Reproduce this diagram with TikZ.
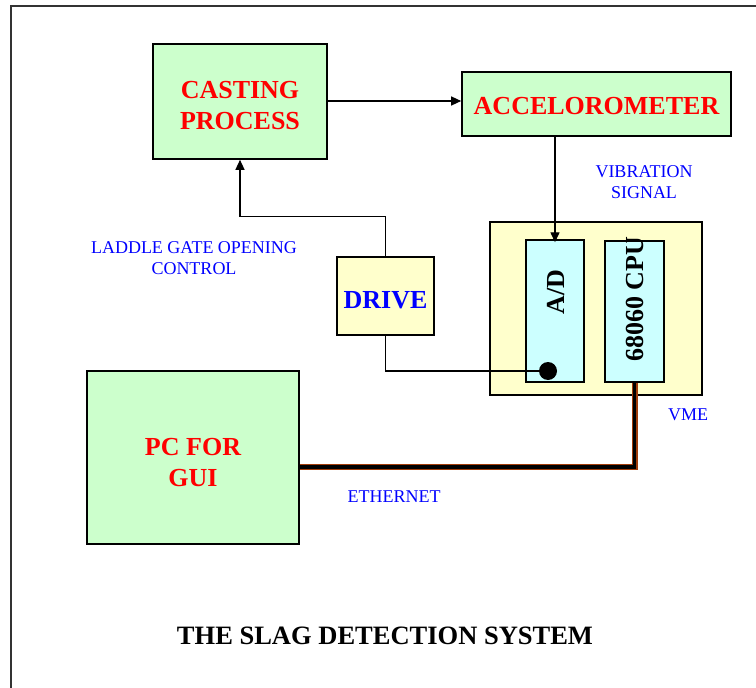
\documentclass[tikz,border=0pt]{standalone}
\usepackage{fontspec}
\setmainfont{Liberation Serif}
\usepackage{tikz}
\usetikzlibrary{arrows.meta}

\definecolor{boxgreen}{RGB}{204,255,204}
\definecolor{boxyellow}{RGB}{255,255,204}
\definecolor{boxcyan}{RGB}{204,255,255}
\definecolor{netbrown}{RGB}{160,60,10}

\begin{document}
\begin{tikzpicture}[
    x=1pt, y=-1pt,
    box/.style={rectangle, draw, line width=1.6pt, inner sep=0pt, align=center},
    bigtext/.style={font=\fontsize{26}{31}\selectfont\bfseries},
    greenbox/.style={box, fill=boxgreen},
    redtext/.style={bigtext, text=red, align=center, yshift=-4.5pt},
    yellowbox/.style={box, fill=boxyellow},
    cyanbox/.style={box, fill=boxcyan, line width=1.4pt},
    side/.style={text=blue, align=center, font=\fontsize{18}{21}\selectfont},
    wire/.style={line width=1.3pt},
    arrow/.style={wire, -{Triangle[length=10pt, width=9pt]}},
    ether/.style={draw=netbrown, double=black, double distance=3.4pt, line width=1.3pt},
    dot/.style={circle, fill=black, minimum size=18pt, inner sep=0pt}
  ]
    \useasboundingbox (0,0) rectangle (756,688);
    \draw[line width=1.8pt, black!80] (11,720) |- (790,6);

    \node[greenbox, minimum width=174pt, minimum height=115pt,
      label={[redtext]center:CASTING\\PROCESS}] (casting) at (240,101.5) {};
    \node[greenbox, minimum width=269pt, minimum height=64pt,
      label={[redtext, yshift=2pt]center:ACCELOROMETER}] (accel) at (596.5,104) {};
    \node[greenbox, minimum width=212pt, minimum height=173pt,
      label={[redtext, yshift=-1pt]center:PC FOR\\GUI}] (pc) at (193,457.5) {};
    \node[yellowbox, minimum width=97pt, minimum height=78pt,
      label={[bigtext, text=blue, yshift=-4pt]center:DRIVE}] (drive) at (385.5,296) {};
    \node[yellowbox, minimum width=212pt, minimum height=173pt] (vme) at (596,308.5) {};
    \node[cyanbox, minimum width=58pt, minimum height=142pt,
      label={[bigtext, rotate=90, yshift=-1pt, xshift=19pt]center:A/D}] (ad) at (555,311) {};
    \node[cyanbox, minimum width=59pt, minimum height=141pt,
      label={[bigtext, rotate=90, xshift=12pt]center:68060 CPU}] (cpu) at (634.5,311.5) {};
    \node[dot] (adin) at (548,371) {};

    \node[side] (vib) at (644,182) {VIBRATION\\SIGNAL};
    \node[side] (gate) at (194,258) {LADDLE GATE OPENING\\CONTROL};
    \node[side] (eth) at (394,497) {ETHERNET};
    \node[side] (vmelabel) at (688,415) {VME};
    \node[font=\fontsize{26.5}{31}\selectfont\bfseries] (title) at (385,636) {THE SLAG DETECTION SYSTEM};

    \draw[arrow] (casting.east |- 0,101) -- (accel.west |- 0,101);
    \draw[arrow] (ad.north |- accel.south) -- ([yshift=-3pt]ad.north);
    \draw[arrow] (drive.north) -- ++(0,-40) -| (casting.south);
    \draw[wire] (drive.south) |- (adin);
    \draw[ether] ([yshift=-9.5pt]pc.east) -| (cpu.south);
  \end{tikzpicture}
\end{document}
